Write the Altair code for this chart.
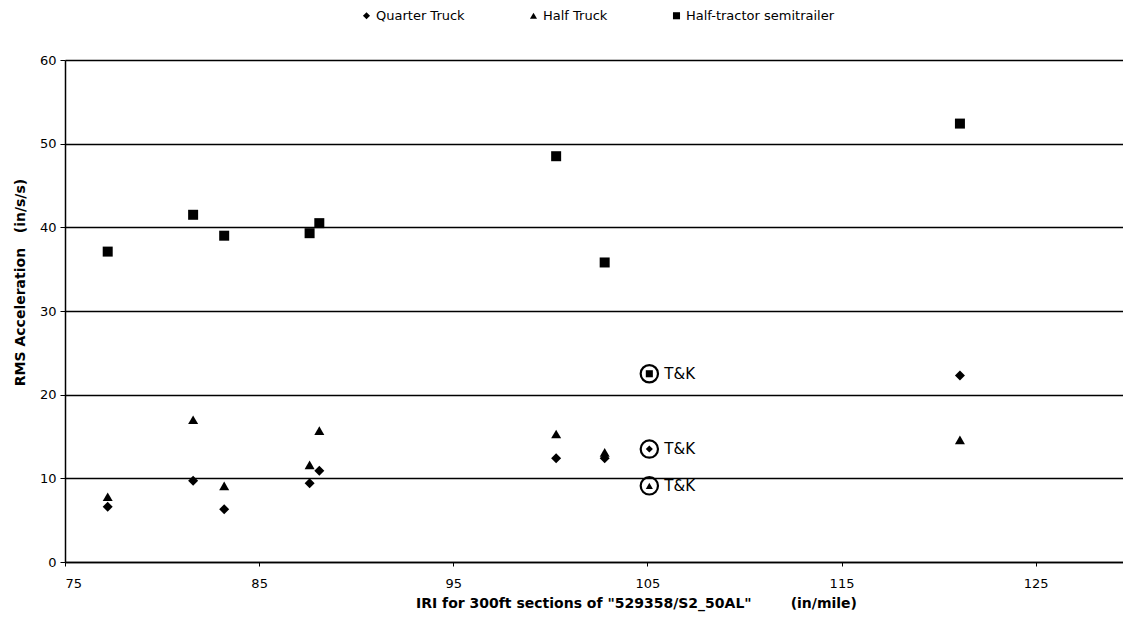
import altair as alt
import pandas as pd

# IRI (in/mile) of each 300 ft section
iri = [77.2, 81.6, 83.2, 87.6, 88.1, 100.3, 102.8, 121.1]

# RMS acceleration (in/s/s) per vehicle model
quarter_truck = [6.6, 9.7, 6.3, 9.4, 10.9, 12.4, 12.4, 22.3]
half_truck = [7.8, 17.0, 9.1, 11.6, 15.7, 15.3, 13.1, 14.6]
half_tractor = [37.1, 41.5, 39.0, 39.3, 40.5, 48.5, 35.8, 52.4]

series_names = ["Quarter Truck", "Half Truck", "Half-tractor semitrailer"]
series_shapes = ["diamond", "triangle-up", "square"]

# T&K reference results (same order as series_names)
tk_iri = 105.1
tk_values = [13.5, 9.1, 22.5]
tk_label = "T&K"

x_ticks = [75, 85, 95, 105, 115, 125]
y_ticks = [0, 10, 20, 30, 40, 50, 60]

FONT = "DejaVu Sans"
NB = "\u00a0"

rows = []
for name, vals in zip(series_names, [quarter_truck, half_truck, half_tractor]):
    for xv, yv in zip(iri, vals):
        rows.append({"IRI": xv, "RMS": yv, "Series": name})
df = pd.DataFrame(rows)

tk_df = pd.DataFrame({
    "IRI": [tk_iri] * len(tk_values),
    "RMS": tk_values,
    "Series": series_names,
    "Label": [tk_label] * len(tk_values),
})

x_scale = alt.Scale(domain=[75, 129.5], nice=False, zero=False)
y_scale = alt.Scale(domain=[0, 60], nice=False)
shape_scale = alt.Scale(domain=series_names, range=series_shapes)

x_enc = alt.X(
    "IRI:Q",
    scale=x_scale,
    axis=alt.Axis(
        values=x_ticks,
        grid=False,
        title='IRI for 300ft sections of "529358/S2_50AL"' + NB * 8 + "(in/mile)",
        titleX=571,
        titleY=34,
        titleFontSize=14,
        tickSize=4,
        labelPadding=11,
    ),
)
y_enc = alt.Y(
    "RMS:Q",
    scale=y_scale,
    axis=alt.Axis(
        values=y_ticks,
        grid=True,
        title="RMS Acceleration" + NB * 3 + "(in/s/s)",
        titleX=-38,
        titleY=222,
        titleFontSize=14,
        tickSize=5,
        labelPadding=4,
    ),
)

legend = alt.Legend(
    title=None,
    orient="none",
    legendX=295,
    legendY=-51,
    direction="horizontal",
    columnPadding=62,
    symbolSize=50,
    symbolFillColor="black",
    symbolStrokeColor="black",
    symbolStrokeWidth=0,
    labelFontSize=13,
    labelFont=FONT,
    labelColor="black",
    labelOffset=3,
)

points = alt.Chart(df).mark_point(
    filled=True, fill="black", strokeWidth=0, size=100, opacity=1
).encode(
    x=x_enc,
    y=y_enc,
    shape=alt.Shape("Series:N", scale=shape_scale, legend=legend),
)

rings = alt.Chart(tk_df).mark_point(
    shape="circle", filled=False, stroke="black", strokeWidth=2.2, size=300, opacity=1
).encode(x=x_enc, y=y_enc)

inner = alt.Chart(tk_df).mark_point(
    filled=True, fill="black", strokeWidth=0, size=50, opacity=1
).encode(
    x=x_enc,
    y=y_enc,
    shape=alt.Shape("Series:N", scale=shape_scale, legend=legend),
)

labels = alt.Chart(tk_df).mark_text(
    align="left", baseline="middle", dx=15, fontSize=15, font=FONT, color="black"
).encode(x=x_enc, y=y_enc, text="Label:N")

chart = alt.layer(points, rings, inner, labels).properties(
    width=1058,
    height=502,
    padding={"left": 65, "top": 60, "right": 0, "bottom": 59},
    autosize=alt.AutoSizeParams(type="none"),
    background="white",
).configure_view(
    stroke=None
).configure_axis(
    domainColor="black",
    domainWidth=1.5,
    tickColor="black",
    tickWidth=1,
    gridColor="black",
    gridWidth=1.7,
    gridOpacity=1,
    labelColor="black",
    labelFont=FONT,
    labelFontSize=13,
    titleColor="black",
    titleFont=FONT,
    titleFontWeight="bold",
)

chart.save("out.html", embed_options={"renderer": "svg", "actions": False})
